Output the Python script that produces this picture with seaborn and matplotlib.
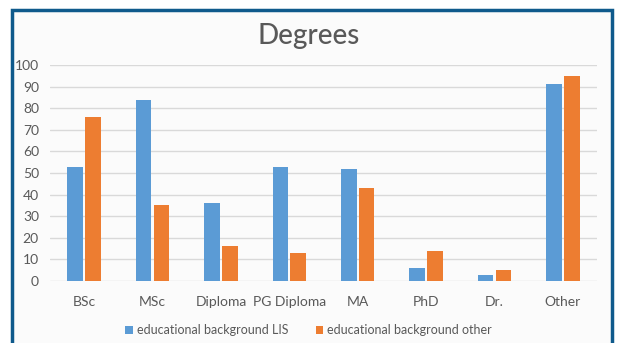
import pandas as pd
import matplotlib
matplotlib.use('Agg')
import matplotlib.pyplot as plt
from matplotlib.patches import Rectangle
import seaborn as sns

# ── Data ───────────────────────────────────────────────────────────────────
categories = ['BSc', 'MSc', 'Diploma', 'PG Diploma', 'MA', 'PhD', 'Dr.', 'Other']
lis_values = [53, 84, 36, 53, 52, 6, 3, 91]
other_values = [76, 35, 16, 13, 43, 14, 5, 95]
series_names = ['educational background LIS', 'educational background other']
y_ticks = [0, 10, 20, 30, 40, 50, 60, 70, 80, 90, 100]

df = pd.DataFrame({
    'degree': categories * 2,
    'value': lis_values + other_values,
    'series': [series_names[0]] * len(categories) + [series_names[1]] * len(categories),
})

# ── Style ──────────────────────────────────────────────────────────────────
sns.set_theme(style='white')
plt.rcParams['font.family'] = ['Lato', 'DejaVu Sans']

BLUE = '#5B9BD5'
ORANGE = '#ED7D31'
TEXT = '#595959'

fig = plt.figure(figsize=(6.17, 3.43), dpi=100)
fig.patch.set_facecolor('white')

# framed panel (behind the axes)
frame = Rectangle((12 / 617, -0.05), 600 / 617, 1 - 9.5 / 343 + 0.05,
                  transform=fig.transFigure, facecolor='#FBFBFB',
                  edgecolor='#0F5A8C', linewidth=2.5, zorder=-10)
fig.add_artist(frame)

ax = fig.add_axes([50 / 617, 1 - 281 / 343, 547 / 617, 216 / 343])
ax.set_facecolor('none')
ax.set_zorder(1)

sns.barplot(data=df, x='degree', y='value', hue='series',
            palette=[BLUE, ORANGE], width=0.52, gap=0.12,
            saturation=1, linewidth=0, ax=ax, legend=True)

ax.set_ylim(0, 100)
ax.set_xlim(-0.5, len(categories) - 0.5)
ax.set_yticks(y_ticks)
ax.yaxis.grid(True, color='#D9D9D9', linewidth=1)
ax.set_axisbelow(True)
for side in ['top', 'right', 'left', 'bottom']:
    ax.spines[side].set_visible(False)
ax.tick_params(axis='y', colors=TEXT, labelsize=10, length=0, pad=8)
ax.tick_params(axis='x', colors=TEXT, labelsize=10, length=0, pad=11)
ax.set_xlabel('')
ax.set_ylabel('')

fig.text(0.5, 1 - 36 / 343, 'Degrees', ha='center', va='center',
         fontsize=20, color=TEXT, fontweight='medium')

leg = ax.legend(loc='center', bbox_to_anchor=(0.5, 1 - 330 / 343),
                bbox_transform=fig.transFigure, ncol=2, frameon=False,
                fontsize=9, handlelength=0.6, handleheight=0.6,
                handletextpad=0.3, columnspacing=2.2)
for t in leg.get_texts():
    t.set_color(TEXT)

fig.savefig('out.png', dpi=100)
